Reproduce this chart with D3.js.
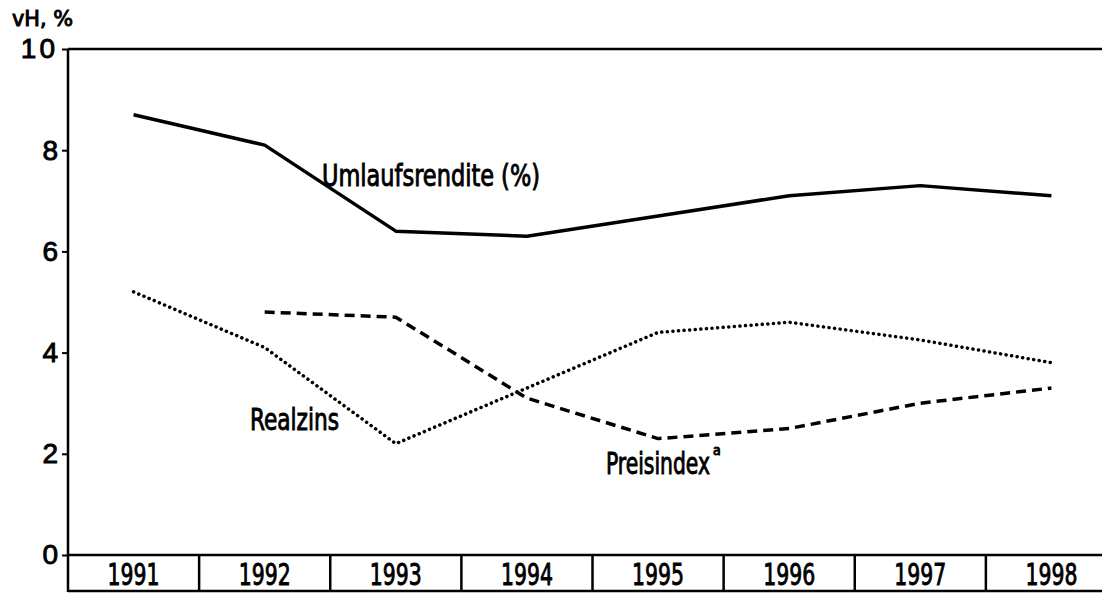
<!DOCTYPE html>
<html>
<head>
<meta charset="utf-8">
<script src="https://cdn.jsdelivr.net/npm/d3@7"></script>
<style>
  body { margin: 0; background: #fff; }
  svg { display: block; font-family: "DejaVu Sans Condensed", "DejaVu Sans", sans-serif; }
  .lbl { stroke: #000; stroke-width: 0.9px; fill: #000; }
</style>
</head>
<body>
<svg width="1102" height="593"></svg>
<script>
const years = [1991, 1992, 1993, 1994, 1995, 1996, 1997, 1998];
const umlaufsrendite = [8.7, 8.1, 6.4, 6.3, 6.7, 7.1, 7.3, 7.1];
const realzins = [5.2, 4.1, 2.2, 3.3, 4.4, 4.6, 4.25, 3.8];
const preisindex = [null, 4.8, 4.7, 3.1, 2.3, 2.5, 3.0, 3.3];
const yTicks = [0, 2, 4, 6, 8, 10];

function drawChart() {
  let svg = d3.select("svg"),
    left = 68, top = 49, base = 555, bottom = 592;

  let x = d3.scaleBand().domain(years).range([left, 1117]).padding(0),
    y = d3.scaleLinear().domain([0, 10]).range([base, top]);

  let line = d3.line()
    .defined(d => d.v !== null)
    .x(d => x(d.year) + x.bandwidth() / 2)
    .y(d => y(d.v));

  let series = [
    { id: "Umlaufsrendite", values: umlaufsrendite, dash: null, cap: "butt" },
    { id: "Realzins", values: realzins, dash: "0.1 5.5", cap: "round" },
    { id: "Preisindex", values: preisindex, dash: "10 6", cap: "butt" }
  ];

  // frame
  svg.append("line").attr("x1", left).attr("x2", 1102).attr("y1", top).attr("y2", top)
    .attr("stroke", "#000").attr("stroke-width", 2.5);
  svg.append("line").attr("x1", left).attr("x2", left).attr("y1", top).attr("y2", bottom)
    .attr("stroke", "#000").attr("stroke-width", 2.5);
  svg.append("line").attr("x1", left).attr("x2", 1102).attr("y1", base).attr("y2", base)
    .attr("stroke", "#000").attr("stroke-width", 2.5);
  svg.append("line").attr("x1", left).attr("x2", 1102).attr("y1", bottom - 1).attr("y2", bottom - 1)
    .attr("stroke", "#000").attr("stroke-width", 2.5);

  // y axis
  let yAxis = svg.append("g")
    .attr("transform", "translate(" + left + ",0)")
    .call(d3.axisLeft(y).tickValues(yTicks).tickSize(6).tickSizeOuter(0).tickPadding(4));
  yAxis.select(".domain").remove();
  yAxis.selectAll(".tick line").attr("stroke-width", 2);
  yAxis.selectAll(".tick text")
    .attr("class", "lbl")
    .attr("font-size", 28)
    .attr("font-family", null)
    .attr("letter-spacing", d => d === 10 ? "3px" : null);

  svg.append("text")
    .attr("class", "lbl")
    .attr("x", 12).attr("y", 26)
    .attr("textLength", 61).attr("lengthAdjust", "spacingAndGlyphs")
    .attr("font-size", 21)
    .text("vH, %");

  // year boxes
  svg.append("g").selectAll("line")
    .data(years.slice(1))
    .enter().append("line")
    .attr("x1", d => x(d)).attr("x2", d => x(d))
    .attr("y1", base).attr("y2", bottom)
    .attr("stroke", "#000").attr("stroke-width", 2.5);

  svg.append("g").selectAll("text")
    .data(years)
    .enter().append("text")
    .attr("class", "lbl")
    .attr("x", d => x(d) + x.bandwidth() / 2 - 52 / 2)
    .attr("y", 585)
    .attr("textLength", 52).attr("lengthAdjust", "spacingAndGlyphs")
    .attr("font-size", 31)
    .text(d => d);

  // series
  svg.append("g").selectAll("path")
    .data(series)
    .enter().append("path")
    .attr("fill", "none")
    .attr("stroke", "#000")
    .attr("stroke-width", 3.5)
    .attr("stroke-dasharray", d => d.dash)
    .attr("stroke-linecap", d => d.cap)
    .attr("stroke-linejoin", "round")
    .attr("d", d => line(years.map((yr, i) => ({ year: yr, v: d.values[i] }))));

  // labels
  svg.append("text").attr("class", "lbl").attr("x", 322).attr("y", 186)
    .attr("textLength", 218).attr("lengthAdjust", "spacingAndGlyphs")
    .attr("font-size", 30).text("Umlaufsrendite (%)");
  svg.append("text").attr("class", "lbl").attr("x", 250).attr("y", 430)
    .attr("textLength", 89).attr("lengthAdjust", "spacingAndGlyphs")
    .attr("font-size", 30).text("Realzins");

  let pi = svg.append("text").attr("class", "lbl").attr("x", 606).attr("y", 474)
    .attr("font-size", 30);
  pi.append("tspan")
    .attr("textLength", 104).attr("lengthAdjust", "spacingAndGlyphs")
    .text("Preisindex");
  pi.append("tspan")
    .attr("dx", 3).attr("dy", -19)
    .attr("font-size", 14)
    .text("a");
}

drawChart();
</script>
</body>
</html>
